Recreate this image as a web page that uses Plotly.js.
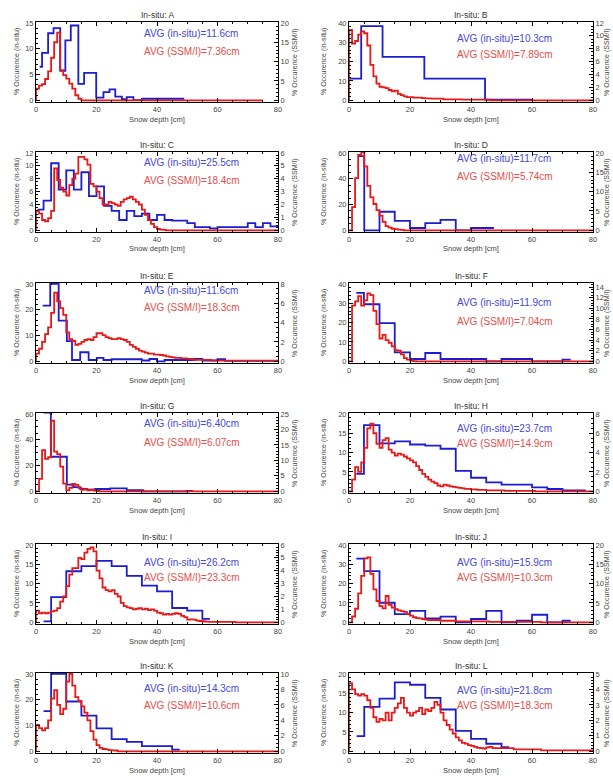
<!DOCTYPE html>
<html><head><meta charset="utf-8">
<script src="https://cdn.plot.ly/plotly-3.0.1.min.js"></script>
<style>html,body{margin:0;padding:0;background:#fff}#chart{width:613px;height:776px}</style>
</head><body><div id="chart"></div>
<script>
// ---------------- DATA ----------------
const stations = ["A","B","C","D","E","F","G","H","I","J","K","L"];
const avgInSitu = ["11.6","10.3","25.5","11.7","11.6","11.9","6.40","23.7","26.2","15.9","14.3","21.8"];
const avgSsmi   = ["7.36","7.89","18.4","5.74","18.3","7.04","6.07","14.9","23.3","10.3","10.6","18.3"];
const leftMax   = [15,40,12,60,30,40,60,20,20,40,30,20];
const leftStep  = [5,10,2,20,10,10,20,5,5,10,10,5];
const rightMax  = [20,12,6,20,8,14.6,25,8,6,20,10,5];
const rightStep = [5,2,1,5,2,2,5,2,1,5,2,1];
const xTicks = [0,20,40,60,80];

// in-situ histograms (bin edges in cm, % occurrence per bin)
const blueEdgesA = [1.2,2,4,5.8,8,9.7,11.5,14,15.9,19.9,22.3,24.3,26.2,28.4,30,32.2,35,49];
const blueValsA  = [6.5,9.2,13,14,5.7,11.6,14.5,3.2,5.3,0.5,1.6,2.1,0.7,0.2,0.6,0.05,0.3];
const blueEdgesB = [0.2,4,11,24.7,44.6,60];
const blueValsB  = [11.2,38.3,22.4,11.2,0.35];
const blueEdgesC = [0.5,2.5,5,7.5,10,12.5,15,17.5,20,22.5,25,27.5,30,32.5,35,37.5,40,42.5,45,50,52.5,57.5,60,70,72.5,75,77.5,80];
const blueValsC  = [3.2,4.6,10.4,6.3,9.3,6.3,9.0,5.3,6.8,3.8,3.0,1.6,3.0,2.2,2.6,1.6,2.4,1.6,1.5,1.1,0.5,0.3,0.5,1.1,0.5,1.1,0.6];
const blueEdgesD = [3,5,10,15,20,25,30,35,40,47.5];
const blueValsD  = [57.5,0,14.4,7.3,1.8,5.6,8.1,0,1.8];
const blueEdgesE = [2.2,4.7,7.5,10.2,11.9,14.6,17.4,20.1,22.3,25,35,37.5,40,42.5,52.5,55,60,62.5,80];
const blueValsE  = [21.6,30,15.8,7.8,0.5,3.5,0.5,1.3,0.5,0.8,0.3,0.9,0,0.5,0.9,0.3,0.8,0.2];
const blueEdgesF = [2.4,4.9,10,15,20,25,30,45,50,60,70,72.7];
const blueValsF  = [35.4,29.5,19.7,4.6,1.2,4.3,1.2,0,1.2,0,0.9];
const blueEdgesG = [2.5,4.9,10.2,12.4,14.6,16.8,19.6,24.5,30,35.5,49.8,52];
const blueValsG  = [61,26.8,5.1,3.3,1.8,1.3,1.8,2.3,0.8,0,0.3];
const blueEdgesH = [2.4,4.9,10,15,20,25,30,35,40,45,50,60,65,70,77.6];
const blueValsH  = [4.5,17.1,12.4,12.9,12.1,11.8,11.0,5.3,3.5,2.3,1.7,1.0,0.6,0.25];
const blueEdgesI = [2.5,5,10,15,20,25,30,35,40,45,50,55,57.5];
const blueValsI  = [0.25,6.5,13.2,14.5,15.9,14.5,12,9.5,8,3.7,3.0,0.9];
const blueEdgesJ = [2.4,4.9,10,15,20,25,30,35,40,45,50,55,60,65,70,72.7];
const blueValsJ  = [32.9,26.5,10.1,4.2,5.9,2.0,2.9,0,1.7,5.9,0,0.8,3.9,0,0.8];
const blueEdgesK = [2.5,5,10,15,20,25,30,35,45,47.5];
const blueValsK  = [15.6,30,19.3,13.8,8.9,4.7,3.65,2.0,0.65];
const blueEdgesL = [2.5,5,10,15,20,25,30,35,40,45,50,52.5];
const blueValsL  = [3.9,11.5,13.6,17.8,17.2,13.8,10.8,5.3,3.2,1.95,1.1];

// SSM/I histograms, 1 cm bins from 0 to 80 cm (% occurrence)
const redA = [3.0,3.8,4.2,5.5,7.5,11,15,17.5,7.8,6.5,5.6,4.3,3.0,1.3,0.4,
  0,0,0,0,0,0,0,0,0,0,0,0,0,0,0,0,0,0,0,0,0,0,0,0,0,0,0,0,0,0,0,0,0,0,0,0,0,0,0,0,0,0,0,0,0,0,0,0,0,0,0,0,0,0,0,0,0,0,0,0];
const redB = [10.9,8.8,9.2,10.2,10.7,10.4,8.5,5.5,3.7,2.6,2.1,2.0,1.9,1.6,1.4,1.5,1.0,0.8,0.6,0.5,0.5,0.4,0.4,0.4,0.35,0.3,0.3,0.25,0.25,0.25,0.25,
  0.15,0.15,0.15,0.15,0.15,0.15,0.1,0.1,0.1,0.1,0.1,0.1,0.1,0.1,0.1,
  0,0,0,0,0,0,0,0,0,0,0,0,0,0,0,0,0,0,0,0,0,0,0,0,0,0,0,0,0,0,0,0,0,0];
const redC = [1.5,1.3,0.8,0.7,0.95,1.5,4.8,3.9,3.3,3.0,2.7,3.5,4.0,4.4,5.7,5.7,5.5,5.1,3.6,3.4,3.0,2.5,2.0,2.0,2.2,2.1,2.0,1.9,2.2,2.4,2.5,2.6,2.4,2.2,2.0,1.6,1.2,0.8,0.5,0.25,0.1,0.05,0.03,
  0,0,0,0,0,0,0,0,0,0,0,0,0,0,0,0,0,0,0,0,0,0,0,0,0,0,0,0,0,0,0,0,0,0,0,0,0];
const redD = [0,6,13.5,19.5,20.2,16.5,11.5,8.5,6.8,5.2,3.8,2.2,1.1,0.7,0.4,0.3,0.15,0.1,
  0,0,0,0,0,0,0,0,0,0,0,0,0,0,0,0,0,0,0,0,0,0,0,0,0,0,0,0,0,0,0,0,0,0,0,0,0,0,0,0,0,0,0,0,0,0,0,0,0,0,0,0,0,0,0,0,0,0,0,0,0,0];
const redE = [0.8,1.3,2.0,2.8,3.5,5.0,7.1,6.2,5.5,4.8,3.0,2.3,2.1,1.7,1.8,2.0,2.2,2.3,2.2,2.5,2.9,2.9,2.7,2.5,2.4,2.3,2.3,2.4,2.3,2.2,2.0,1.7,1.5,1.3,1.1,1.0,0.9,0.8,0.8,0.7,0.7,0.65,0.6,0.5,0.45,0.4,0.35,0.35,0.3,0.3,0.25,0.25,
  0.15,0.15,0.15,0.15,0.15,0.15,
  0.07,0.07,0.07,0.07,0.07,0.07,0.07,0.07,0.07,0.07,0.07,0.07,0.07,0.07,0.07,0.07,0.07,0.07,0.07,0.07,0.07,0.07];
const redF = [0,10.5,11.3,12.3,10.5,11.5,12.8,12.5,9.5,7.0,4.3,5.0,4.0,3.5,2.8,2.1,2.0,1.3,0.6,0.3,0.15,0.05,
  0,0,0,0,0,0,0,0,0,0,0,0,0,0,0,0,0,0,0,0,0,0,0,0,0,0,0,0,0,0,0,0,0,0,0,0,0,0,0,0,0,0,0,0,0,0,0,0,0,0,0,0,0,0,0,0,0,0];
const redG = [0,4,13.3,10.5,11,22.8,12.8,12,8,2.5,0.3,1.1,2.4,2.1,1.1,0.5,0.7,0.3,0.5,0.2,0.1,
  0,0,0,0,0,0,0,0,0,0,0,0,0,0,0,0,0,0,0,0,0,0,0,0,0,0,0,0,0,0,0,0,0,0,0,0,0,0,0,0,0,0,0,0,0,0,0,0,0,0,0,0,0,0,0,0,0,0,0];
const redH = [0,1.2,2.5,2.0,3.0,4.5,6.5,7.0,6.0,4.9,4.5,5.3,5.5,4.3,4.0,3.7,3.9,3.8,3.6,3.4,3.2,3.0,2.6,2.2,1.8,1.5,1.2,1.0,0.85,0.6,0.5,0.7,0.6,0.5,0.45,0.4,0.35,0.3,0.25,0.25,0.2,0.2,0.15,0.15,0.15,0.1,0.1,0.1,0.1,0.1,0.1,
  0.05,0.05,0.05,0.05,0.05,0.05,0.05,0.05,0.05,0.05,
  0,0,0,0,0,0,0,0,0,0,0,0,0,0,0,0,0,0,0];
const redI = [0.9,0.7,0.75,0.7,0.75,0.85,0.9,1.1,1.6,2.0,2.8,3.7,4.2,4.2,5.0,4.9,5.4,5.7,5.8,5.5,4.0,3.4,2.7,2.5,2.4,2.5,2.2,2.0,1.5,1.25,1.15,1.1,1.0,1.05,1.1,1.0,1.05,0.95,1.0,0.9,0.75,0.7,0.6,0.65,0.6,0.65,0.7,0.65,0.5,0.4,0.2,0.23,0.2,0.13,0.1,0.08,0.05,
  0.03,0.03,0.03,0.03,0.03,0.03,0.03,0.03,0.03,
  0,0,0,0,0,0,0,0,0,0,0,0,0,0];
const redJ = [0,1.5,3.5,7.5,12,16.5,16.8,12.5,8.5,5.5,4.2,3.6,6.8,4.5,3.8,3.4,3.1,2.9,2.7,2.1,1.7,1.3,1.1,1.0,0.85,0.7,
  0.6,0.6,0.6,0.6,0.4,0.4,0.4,0.4,0.4,
  0.25,0.25,0.25,0.25,0.25,0.25,0.25,0.25,0.25,0.25,0.25,
  0.1,0.1,0.1,0.1,0.1,0.1,0.1,0.1,0.1,0.1,0.1,0.1,0.1,0.1,0.1,0.1,0.1,
  0,0,0,0,0,0,0,0,0,0,0,0,0,0,0,0,0];
const redK = [3.4,3.0,2.7,3.0,4.0,6.8,7.9,6.0,4.8,5.5,9.0,10.0,8.5,7.0,6.5,5.8,5.0,4.0,2.6,1.5,0.8,0.45,0.3,0.25,0.15,0.12,0.1,
  0,0,0,0,0,0,0,0,0,0,0,0,0,0,0,0,0,0,0,0,0,0,0,0,0,0,0,0,0,0,0,0,0,0,0,0,0,0,0,0,0,0,0,0,0,0,0,0,0,0,0,0,0];
const redL = [4.4,4.0,3.7,3.6,3.7,3.6,3.3,2.8,2.2,1.9,2.1,2.0,2.5,2.0,2.5,2.8,3.1,3.45,2.8,2.5,2.3,2.5,2.6,2.8,2.4,2.7,2.6,2.8,3.2,3.0,2.5,2.0,1.7,1.4,1.15,0.9,0.7,0.55,0.5,0.4,0.35,0.28,0.22,0.2,0.18,0.25,0.28,0.2,
  0.2,0.2,0.2,0.2,0.2,0.2,
  0.13,0.13,0.13,0.13,0.13,0.13,0.13,0.13,0.13,
  0.06,0.06,0.06,0.06,0.06,0.06,0.06,0.06,0.06,0.06,0.06,0.06,0.06,0.06,0.06,0.06,0.06];

const blueEdges = [blueEdgesA,blueEdgesB,blueEdgesC,blueEdgesD,blueEdgesE,blueEdgesF,blueEdgesG,blueEdgesH,blueEdgesI,blueEdgesJ,blueEdgesK,blueEdgesL];
const blueVals  = [blueValsA,blueValsB,blueValsC,blueValsD,blueValsE,blueValsF,blueValsG,blueValsH,blueValsI,blueValsJ,blueValsK,blueValsL];
const redVals   = [redA,redB,redC,redD,redE,redF,redG,redH,redI,redJ,redK,redL];

// ---------------- LAYOUT (pixels) ----------------
const W = 613, H = 776;
const colLeft = [36, 349], colRight = [278, 593];
const rowTop = [22, 152, 283, 413, 544, 673];
const PH = 80;
const avgBlueY = [34,38,162,159,290,303,424,428,562,562,688,690];
const avgRedY  = [52,55,180,177,308,321,442,443,577,577,705,705];
const avgX = [142, 455];
const leftTitleOff = [19, 25], rightTitleOff = [17, 14];

const FONT = "Liberation Sans, Arial, sans-serif";
const BLUE = "#1c1cd2", RED = "#e81818";
const px = v => v / W, py = v => 1 - v / H;

const data = [], annotations = [];
const layout = {
  width: W, height: H, margin: {l:0, r:0, t:0, b:0},
  paper_bgcolor: "#fff", plot_bgcolor: "#fff", showlegend: false,
  font: {family: FONT, size: 8, color: "#444"}
};
const sfx = n => n === 1 ? "" : String(n);
const minorOf = d => d === 5 ? 1 : d === 10 ? 2 : d === 20 ? 5 : d === 2 ? 0.5 : 0.2;

stations.forEach((st, i) => {
  const col = i % 2, row = Math.floor(i / 2);
  const L = colLeft[col], R = colRight[col], T = rowTop[row], B = T + PH;
  const xn = i + 1, yl = 2 * i + 1, yr = 2 * i + 2;
  const lo = -0.022, hi = 1.012;

  layout["xaxis" + sfx(xn)] = {
    domain: [px(L), px(R)], anchor: "y" + sfx(yl), range: [0, 80],
    tickvals: xTicks, ticktext: xTicks.map(String),
    ticks: "inside", ticklen: 4, tickcolor: "#000", showline: true, linecolor: "#000", linewidth: 1,
    mirror: "ticks", showgrid: false, zeroline: false, fixedrange: true,
    tickfont: {size: 7.5, color: "#444"},
    minor: {ticks: "inside", ticklen: 2, dtick: 5, tickcolor: "#000", showgrid: false}
  };
  layout["yaxis" + sfx(yl)] = {
    domain: [py(B), py(T)], anchor: "x" + sfx(xn),
    range: [lo * leftMax[i], hi * leftMax[i]], tick0: 0, dtick: leftStep[i],
    ticks: "inside", ticklen: 4, tickcolor: "#000", showline: true, linecolor: "#000", linewidth: 1,
    showgrid: false, zeroline: false, fixedrange: true, tickfont: {size: 7.5, color: "#444"},
    minor: {ticks: "inside", ticklen: 2, dtick: minorOf(leftStep[i]), tickcolor: "#000", showgrid: false}
  };
  layout["yaxis" + sfx(yr)] = {
    overlaying: "y" + sfx(yl), side: "right", anchor: "x" + sfx(xn),
    range: [lo * rightMax[i], hi * rightMax[i]], tick0: 0, dtick: rightStep[i],
    ticks: "inside", ticklen: 4, tickcolor: "#000", showline: true, linecolor: "#000", linewidth: 1,
    showgrid: false, zeroline: false, fixedrange: true, tickfont: {size: 7.5, color: "#444"},
    minor: {ticks: "inside", ticklen: 2, dtick: minorOf(rightStep[i]), tickcolor: "#000", showgrid: false}
  };

  const be = blueEdges[i], bv = blueVals[i];
  data.push({
    type: "scatter", mode: "lines", x: be, y: bv.concat([bv[bv.length - 1]]),
    xaxis: "x" + sfx(xn), yaxis: "y" + sfx(yl),
    line: {shape: "hv", color: BLUE, width: 1.8}, hoverinfo: "skip", name: "in-situ " + st
  });
  const rv = redVals[i];
  const rx = [0].concat(rv.map((_, k) => k), [rv.length]);
  data.push({
    type: "scatter", mode: "lines", x: rx, y: [0].concat(rv, [rv[rv.length - 1]]),
    xaxis: "x" + sfx(xn), yaxis: "y" + sfx(yr),
    line: {shape: "hv", color: RED, width: 1.8}, hoverinfo: "skip", name: "SSM/I " + st
  });

  const cx = (L + R) / 2;
  annotations.push({xref: "paper", yref: "paper", x: px(cx), y: py(T - 7), text: "In-situ: " + st,
    showarrow: false, xanchor: "center", yanchor: "middle", font: {size: 8.5, color: "#333"}});
  annotations.push({xref: "paper", yref: "paper", x: px(cx), y: py(B + 17), text: "Snow depth [cm]",
    showarrow: false, xanchor: "center", yanchor: "middle", borderpad: 0, font: {size: 7.5, color: "#444"}});
  annotations.push({xref: "paper", yref: "paper", x: px(L - leftTitleOff[col]), y: py(T + PH / 2),
    text: "% Occurence (in-situ)", textangle: -90, showarrow: false, xanchor: "center", yanchor: "middle",
    font: {size: 7, color: "#444"}});
  annotations.push({xref: "paper", yref: "paper", x: px(R + rightTitleOff[col]), y: py(T + PH / 2),
    text: "% Occurence (SSM/I)", textangle: -90, showarrow: false, xanchor: "center", yanchor: "middle",
    font: {size: 7, color: "#444"}});
  annotations.push({xref: "paper", yref: "paper", x: px(avgX[col]), y: py(avgBlueY[i]),
    text: "AVG (in-situ)=" + avgInSitu[i] + "cm", showarrow: false, xanchor: "left", yanchor: "middle",
    font: {size: 10, color: "#4646dc"}});
  annotations.push({xref: "paper", yref: "paper", x: px(avgX[col]), y: py(avgRedY[i]),
    text: "AVG (SSM/I)=" + avgSsmi[i] + "cm", showarrow: false, xanchor: "left", yanchor: "middle",
    font: {size: 10, color: "#e64c4c"}});
});
layout.annotations = annotations;

Plotly.newPlot("chart", data, layout, {staticPlot: true, displayModeBar: false});
</script></body></html>
